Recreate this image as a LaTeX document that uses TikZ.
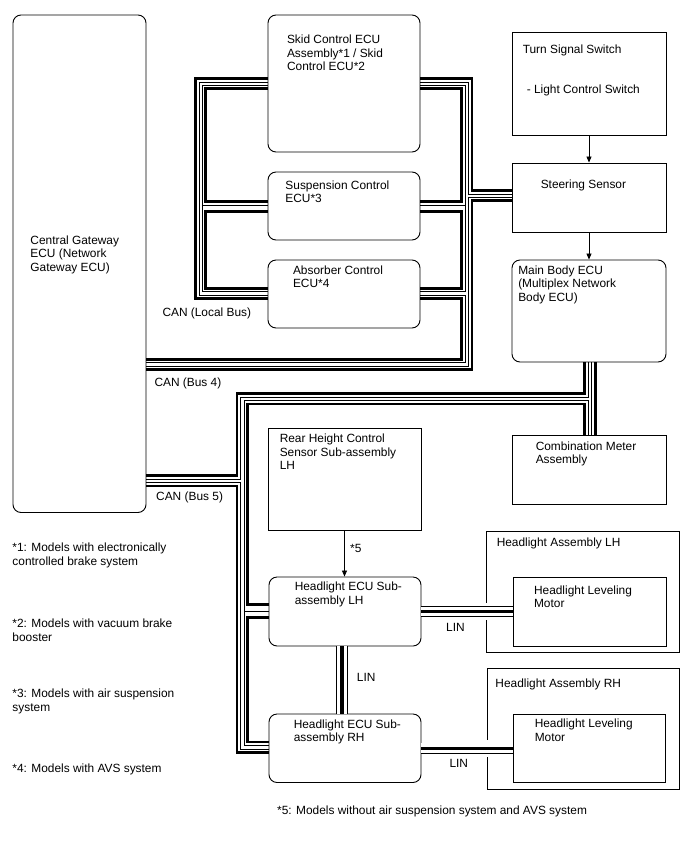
\documentclass[tikz,border=0pt]{standalone}
\usepackage{fontspec}
\setmainfont{Liberation Sans}
\usetikzlibrary{arrows.meta}
\newcommand{\dgfont}{\fontsize{11.9}{13.7}\selectfont}

\begin{document}
\begin{tikzpicture}[x=1pt, y=-1pt,
  box/.style={draw, line width=0.9pt, inner sep=0pt},
  rbox/.style={box, rounded corners=8pt},
  txt/.style={anchor=north west, inner sep=0pt, align=left, font=\dgfont},
  hi/.style={line width=2.8pt},
  lo/.style={line width=0.9pt},
  arr/.style={line width=0.8pt, -{Triangle[length=6pt, width=5pt]}},
  lin/.style={line width=0.9pt, double=white, double distance=9.6pt}]
\useasboundingbox (0,0) rectangle (688,852);

% units
\node[rbox, minimum width=133pt, minimum height=497.5pt] (gw) at (79.5,263.75) {};
\node[rbox, minimum width=152pt, minimum height=137pt] (skid) at (344,83.5) {};
\node[rbox, minimum width=152pt, minimum height=68pt] (susp) at (344,206) {};
\node[rbox, minimum width=152pt, minimum height=68pt] (absb) at (344,294) {};
\node[box, minimum width=154pt, minimum height=103pt] (turn) at (589,83.5) {};
\node[box, minimum width=154pt, minimum height=69pt] (steer) at (589,197.5) {};
\node[rbox, minimum width=154pt, minimum height=102pt] (main) at (589,311) {};
\node[box, minimum width=154pt, minimum height=69pt] (meter) at (589,469.5) {};
\node[box, minimum width=153pt, minimum height=102pt] (rear) at (344.5,479) {};
\node[rbox, minimum width=152pt, minimum height=69pt] (hlL) at (345,611.5) {};
\node[rbox, minimum width=152pt, minimum height=68.5pt] (hlR) at (345,748.25) {};
\node[box, minimum width=193pt, minimum height=121.5pt] (asmL) at (583,591.75) {};
\node[box, minimum width=153pt, minimum height=69pt] (motL) at (589.5,611.5) {};
\node[box, minimum width=192pt, minimum height=121.5pt] (asmR) at (583,728.75) {};
\node[box, minimum width=152.5pt, minimum height=68pt] (motR) at (589.25,748.25) {};

% CAN (Local Bus)
\draw[hi] (skid.west |- 0,78.5) -| (195.5,298.3) -- (absb.west |- 0,298.3);
\draw[lo] (skid.west |- 0,82) -| (199,295) -- (absb.west |- 0,295);
\draw[lo] (skid.west |- 0,85.3) -| (202.3,205.5) -- (susp.west |- 0,205.5);
\draw[hi] (skid.west |- 0,88.7) -| (205.8,201.7) -- (susp.west |- 0,201.7);
\draw[lo] (susp.west |- 0,205.5) -| (202.3,291.7) -- (absb.west |- 0,291.7);
\draw[hi] (susp.west |- 0,211.7) -| (205.8,288.3) -- (absb.west |- 0,288.3);
\draw[hi] (skid.east |- 0,78.5) -| (472,190.5) -- (steer.west |- 0,190.5);
\draw[lo] (skid.east |- 0,82) -| (468.5,194) -- (steer.west |- 0,194);
\draw[lo] (skid.east |- 0,85.3) -| (465,205.5) -- (susp.east |- 0,205.5);
\draw[hi] (skid.east |- 0,88.7) -| (461.5,201.7) -- (susp.east |- 0,201.7);
\draw[lo] (susp.east |- 0,205.5) -| (465,291.7) -- (absb.east |- 0,291.7);
\draw[hi] (susp.east |- 0,211.7) -| (461.5,288.3) -- (absb.east |- 0,288.3);
\draw[lo] (absb.east |- 0,295) -| (465,362.7) -- (gw.east |- 0,362.7);
\draw[hi] (absb.east |- 0,298.3) -| (461.5,359.5) -- (gw.east |- 0,359.5);

% CAN (Bus 4)
\draw[lo] (steer.west |- 0,197.3) -| (468.5,366) -- (gw.east |- 0,366);
\draw[hi] (steer.west |- 0,200.7) -| (472,369.3) -- (gw.east |- 0,369.3);

% CAN (Bus 5)
\draw[hi] (main.south -| 584.7,0) |- (237,393.5) |- (gw.east |- 0,475.5);
\draw[lo] (main.south -| 588.3,0) |- (240.5,397) |- (gw.east |- 0,479);
\draw[lo] (meter.north -| 588.3,0) |- (244,400.5) |- (hlL.west |- 0,611);
\draw[hi] (meter.north -| 584.7,0) |- (247.8,404) |- (hlL.west |- 0,604.7);
\draw[lo] (hlL.west |- 0,611) -| (244,745.5) -- (hlR.west |- 0,745.5);
\draw[hi] (hlL.west |- 0,617.7) -| (247.8,742) -- (hlR.west |- 0,742);
\draw[lo] (gw.east |- 0,482.5) -| (240.5,749) -- (hlR.west |- 0,749);
\draw[hi] (gw.east |- 0,486) -| (237,752.5) -- (hlR.west |- 0,752.5);
\draw[lo] (main.south -| 591.8,0) -- (meter.north -| 591.8,0);
\draw[hi] (main.south -| 595.2,0) -- (meter.north -| 595.2,0);

% LIN
\foreach \a/\b in {hlL/motL, hlR/motR}{
  \draw[white, line width=17pt, shorten <=1pt, shorten >=1pt] (\a.east) -- (\b.west);
  \draw[lin] (\a.east) -- (\b.west);
  \draw[line width=3.3pt] (\a.east) -- (\b.west);
}
\draw[lin] ([xshift=-3pt]hlL.south) -- ([xshift=-3pt]hlR.north);
\draw[line width=3.3pt] ([xshift=-3pt]hlL.south) -- ([xshift=-3pt]hlR.north);

% signals
\draw[arr] (turn) -- (steer);
\draw[arr] (steer) -- (main);
\draw[arr] (rear.south) -- (rear.south |- hlL.north);

% texts
\node[txt] at ([shift={(17.7,219.7)}]gw.north west) {\strut Central Gateway\\ECU (Network\\Gateway ECU)};
\node[txt] at ([shift={(19.3,19.2)}]skid.north west) {\strut Skid Control ECU\\Assembly*1 / Skid\\Control ECU*2};
\node[txt] at ([shift={(17.7,7.7)}]susp.north west) {\strut Suspension Control\\ECU*3};
\node[txt] at ([shift={(25.3,4.7)}]absb.north west) {\strut Absorber Control\\ECU*4};
\node[txt] at ([shift={(11,11.7)}]turn.north west) {\strut Turn Signal Switch};
\node[txt] at ([shift={(15,51.7)}]turn.north west) {\strut - Light Control Switch};
\node[txt] at ([shift={(29,15.7)}]steer.north west) {\strut Steering Sensor};
\node[txt] at ([shift={(6.5,4.7)}]main.north west) {\strut Main Body ECU\\(Multiplex Network\\Body ECU)};
\node[txt] at ([shift={(24,5.7)}]meter.north west) {\strut Combination Meter\\Assembly};
\node[txt] at ([shift={(12,5)}]rear.north west) {\strut Rear Height Control\\Sensor Sub-assembly\\LH};
\node[txt] at ([shift={(26,4.4)}]hlL.north west) {\strut Headlight ECU Sub-\\assembly LH};
\node[txt] at ([shift={(25,4.7)}]hlR.north west) {\strut Headlight ECU Sub-\\assembly RH};
\node[txt] at ([shift={(10.5,6.4)}]asmL.north west) {\strut Headlight Assembly LH};
\node[txt] at ([shift={(21.3,7.7)}]motL.north west) {\strut Headlight Leveling\\Motor};
\node[txt] at ([shift={(8.7,9.7)}]asmR.north west) {\strut Headlight Assembly RH};
\node[txt] at ([shift={(22,4.2)}]motR.north west) {\strut Headlight Leveling\\Motor};

\node[txt] (lcan) at (162.3,306.4) {\strut CAN (Local Bus)};
\node[txt] (b4can) at (154.3,376.4) {\strut CAN (Bus 4)};
\node[txt] (b5can) at (156,490.7) {\strut CAN (Bus 5)};
\node[txt] (lin1) at (446,622) {\strut LIN};
\node[txt] (lin2) at (356.7,672) {\strut LIN};
\node[txt] (lin3) at (449.3,758) {\strut LIN};
\node[txt] (n5) at (350,542.7) {\strut *5};

% notes
\node[txt] (fn1) at (12.3,542) {\strut *1: Models with electronically\\controlled brake system};
\node[txt] (fn2) at (12.3,617.7) {\strut *2: Models with vacuum brake\\booster};
\node[txt] (fn3) at (12.3,687.7) {\strut *3: Models with air suspension\\system};
\node[txt] (fn4) at (12.3,762.7) {\strut *4: Models with AVS system};
\node[txt] (fn5) at (277,804.7) {\strut *5: Models without air suspension system and AVS system};
\end{tikzpicture}
\end{document}
